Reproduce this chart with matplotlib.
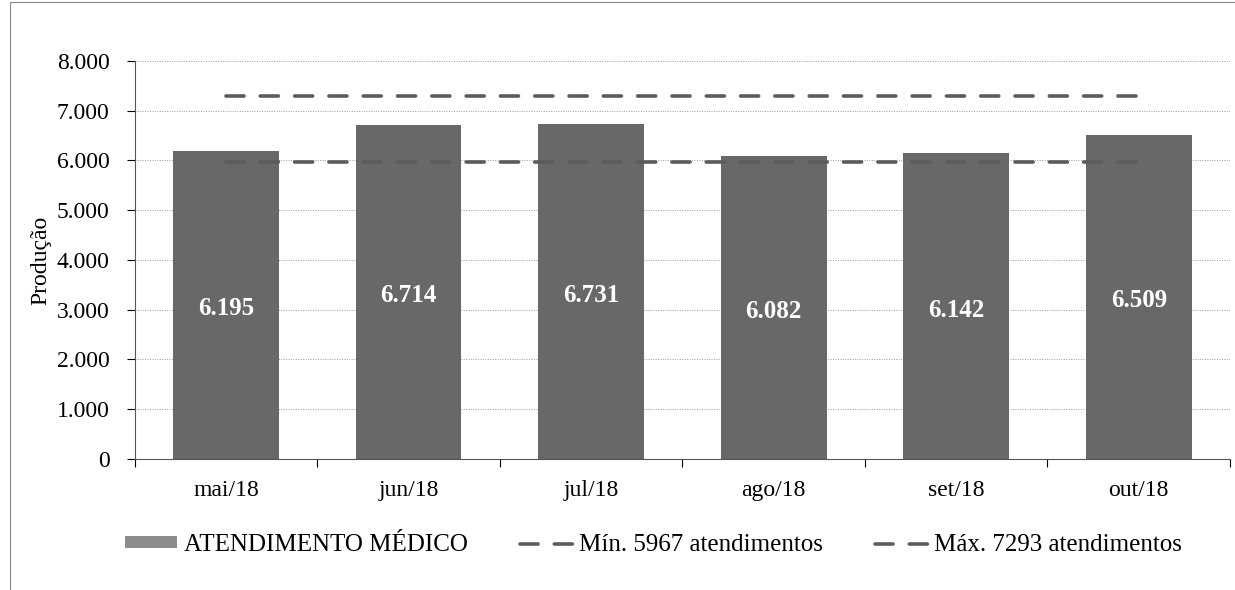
import numpy as np
import matplotlib.pyplot as plt
from matplotlib.patches import Rectangle, Patch

# data
months = ['mai/18', 'jun/18', 'jul/18', 'ago/18', 'set/18', 'out/18']
atendimentos = [6195, 6714, 6731, 6082, 6142, 6509]
minimo = 5967
maximo = 7293

plt.rcParams['font.family'] = ['Liberation Serif', 'DejaVu Serif']

fig = plt.figure(figsize=(12.35, 5.9), dpi=100)
ax = fig.add_axes([0.109, 0.222, 0.887, 0.675])

x = np.arange(len(months))
bar_color = '#686868'
line_color = '#5c5c5c'

ax.bar(x, atendimentos, width=0.58, color=bar_color, zorder=2)

# reference lines run from first to last bar centre
lmin, = ax.plot([x[0], x[-1]], [minimo, minimo], color=line_color, lw=2.6,
                dashes=(5, 4.5), dash_capstyle='round', zorder=3)
lmax, = ax.plot([x[0], x[-1]], [maximo, maximo], color=line_color, lw=2.6,
                dashes=(5, 4.5), dash_capstyle='round', zorder=3)

# value labels in the middle of the bars
for xi, v in zip(x, atendimentos):
    txt = f'{v:,}'.replace(',', '.')
    ax.text(xi, v / 2 - 80, txt, ha='center', va='center', color='white',
            fontsize=18, fontweight='bold', zorder=4)

ax.set_xlim(-0.5, len(months) - 0.5)
ax.set_ylim(0, 8000)
yt = np.arange(0, 8001, 1000)
ax.set_yticks(yt)
ax.set_yticklabels([f'{int(t):,}'.replace(',', '.') for t in yt], fontsize=17)
ax.set_xticks(x)
ax.set_xticklabels(months, fontsize=17)
ax.set_xticks(np.arange(-0.5, len(months)), minor=True)
ax.tick_params(axis='x', which='major', length=0, pad=15)
ax.tick_params(axis='x', which='minor', length=6, width=0.8)
ax.tick_params(axis='y', length=6, width=0.8, pad=12)
ax.set_ylabel('Produção', fontsize=17, labelpad=4)

ax.grid(axis='y', linestyle=(0, (1, 1.5)), color='#9a9a9a', lw=0.7, zorder=0)
ax.set_axisbelow(True)
for s in ['top', 'right']:
    ax.spines[s].set_visible(False)
ax.spines['left'].set_color('#555555')
ax.spines['bottom'].set_color('#555555')

legend_patch = Patch(facecolor='#8c8c8c', edgecolor='none')
fig.legend([legend_patch, lmin, lmax],
           ['ATENDIMENTO MÉDICO', f'Mín. {minimo} atendimentos',
            f'Máx. {maximo} atendimentos'],
           loc='center', bbox_to_anchor=(0.529, 0.076), ncol=3,
           frameon=False, fontsize=18, columnspacing=2.1,
           handlelength=2.1, handleheight=0.35, handletextpad=0.25)

# scan frame on the left and top
fig.patches.append(Rectangle((10 / 1235, -0.1), 1.2, 1.097,
                             transform=fig.transFigure, fill=False,
                             edgecolor='#888888', lw=0.8))

fig.savefig('out.png', dpi=100)
